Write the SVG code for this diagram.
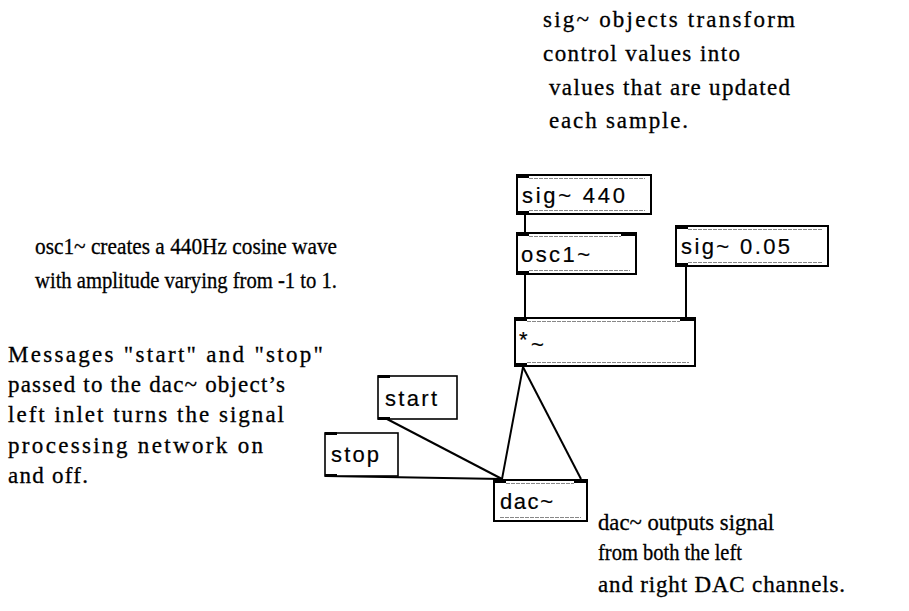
<svg xmlns="http://www.w3.org/2000/svg" width="909" height="611" viewBox="0 0 909 611">
<style>
.note{font-family:"Liberation Serif","DejaVu Serif",serif;font-size:23px;fill:#000;stroke:#000;stroke-width:0.3}
.lbl{font-family:"Liberation Sans","DejaVu Sans",sans-serif;font-size:22px;fill:#000;stroke:#000;stroke-width:0.2}
.box{fill:#fff;stroke:#000;stroke-width:2}
.msg{fill:#fff;stroke:#000;stroke-width:1.6}
.gl{stroke:#888;stroke-width:1.2;stroke-dasharray:4 1}
.io{fill:#000}
.wire{stroke:#000;stroke-width:2;fill:none}
</style>
<rect width="909" height="611" fill="#fff"/>

<g id="notes">
<text class="note" x="543" y="27" textLength="252">sig~ objects transform</text>
<text class="note" x="543" y="61" textLength="197">control values into</text>
<text class="note" x="549" y="95" textLength="241">values that are updated</text>
<text class="note" x="549" y="128" textLength="139">each sample.</text>
<text class="note" x="35" y="254" textLength="302" lengthAdjust="spacingAndGlyphs">osc1~ creates a 440Hz cosine wave</text>
<text class="note" x="35" y="288" textLength="302" lengthAdjust="spacingAndGlyphs">with amplitude varying from -1 to 1.</text>
<text class="note" x="8" y="362" textLength="315">Messages "start" and "stop"</text>
<text class="note" x="8" y="392" textLength="277">passed to the dac~ object’s</text>
<text class="note" x="8" y="422" textLength="276">left inlet turns the signal</text>
<text class="note" x="8" y="453" textLength="255">processing network on</text>
<text class="note" x="8" y="483" textLength="80">and off.</text>
<text class="note" x="598" y="530" textLength="176" lengthAdjust="spacingAndGlyphs">dac~ outputs signal</text>
<text class="note" x="598" y="560" textLength="144" lengthAdjust="spacingAndGlyphs">from both the left</text>
<text class="note" x="598" y="592" textLength="247">and right DAC channels.</text>
</g>

<g id="wires">
<line class="wire" x1="525" y1="214" x2="525" y2="233"/>
<line class="wire" x1="525" y1="274" x2="525" y2="318"/>
<line class="wire" x1="686" y1="266" x2="686" y2="318"/>
<line class="wire" x1="523" y1="367" x2="502" y2="479"/>
<line class="wire" x1="523" y1="367" x2="581" y2="479"/>
<line class="wire" x1="387" y1="419" x2="502" y2="479"/>
<line class="wire" x1="326" y1="476" x2="502" y2="479"/>
</g>

<g id="sig440">
<rect class="box" x="517" y="175" width="134" height="39"/>
<rect class="io" x="517" y="174" width="12" height="4"/>
<rect class="io" x="517" y="211" width="12" height="4"/>
<line class="gl" x1="529" y1="178.5" x2="645" y2="178.5"/>
<line class="gl" x1="529" y1="210.5" x2="645" y2="210.5"/>
<text class="lbl" x="522" y="203" textLength="103">sig~ 440</text>
</g>

<g id="osc1">
<rect class="box" x="517" y="233" width="119" height="41"/>
<rect class="io" x="517" y="232" width="12" height="4"/>
<rect class="io" x="621" y="232" width="15" height="4"/>
<rect class="io" x="517" y="271" width="12" height="4"/>
<line class="gl" x1="529" y1="236.5" x2="621" y2="236.5"/>
<line class="gl" x1="529" y1="270.5" x2="630" y2="270.5"/>
<text class="lbl" x="521" y="262" textLength="69">osc1~</text>
</g>

<g id="sig005">
<rect class="box" x="676" y="226" width="152" height="40"/>
<rect class="io" x="676" y="225" width="12" height="4"/>
<rect class="io" x="676" y="263" width="12" height="4"/>
<line class="gl" x1="688" y1="229.5" x2="822" y2="229.5"/>
<line class="gl" x1="688" y1="262.5" x2="822" y2="262.5"/>
<text class="lbl" x="681" y="254" textLength="109">sig~ 0.05</text>
</g>

<g id="mul">
<rect class="box" x="515" y="318" width="180" height="48"/>
<rect class="io" x="515" y="317" width="12" height="4"/>
<rect class="io" x="680" y="317" width="15" height="4"/>
<rect class="io" x="515" y="363" width="12" height="4"/>
<line class="gl" x1="527" y1="321.5" x2="680" y2="321.5"/>
<line class="gl" x1="527" y1="362.5" x2="689" y2="362.5"/>
<text class="lbl" x="519" y="347">*</text>
<text class="lbl" x="531" y="352">~</text>
</g>

<g id="start">
<rect class="msg" x="378" y="376" width="79" height="43"/>
<rect class="io" x="378" y="375" width="12" height="3"/>
<rect class="io" x="378" y="417" width="12" height="3"/>
<text class="lbl" x="385" y="406" textLength="52">start</text>
</g>

<g id="stop">
<rect class="msg" x="325" y="433" width="73" height="43"/>
<rect class="io" x="325" y="432" width="12" height="3"/>
<rect class="io" x="325" y="474" width="12" height="3"/>
<text class="lbl" x="331" y="462" textLength="48">stop</text>
</g>

<g id="dac">
<rect class="box" x="494" y="480" width="93" height="41"/>
<rect class="io" x="494" y="479" width="12" height="4"/>
<rect class="io" x="574" y="479" width="13" height="4"/>
<line class="gl" x1="506" y1="483.5" x2="574" y2="483.5"/>
<line class="gl" x1="500" y1="517.5" x2="581" y2="517.5"/>
<text class="lbl" x="500" y="509" textLength="53">dac~</text>
</g>
</svg>
